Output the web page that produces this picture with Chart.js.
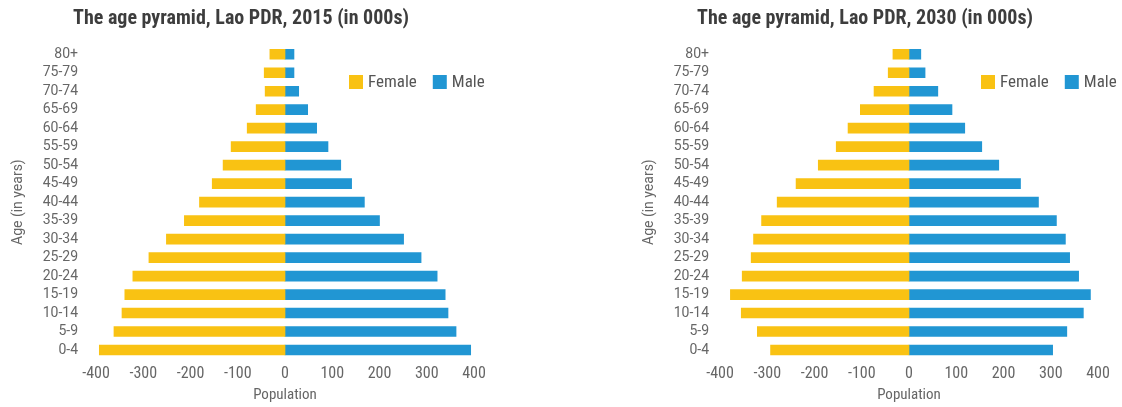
<!DOCTYPE html>
<html><head><meta charset="utf-8">
<script src="https://cdn.jsdelivr.net/npm/chart.js@4.4.1/dist/chart.umd.min.js"></script>
<style>
html,body{margin:0;padding:0;background:#fff;}
body{width:1122px;height:407px;position:relative;overflow:hidden;}
.box{position:absolute;top:0;width:498px;height:407px;}
</style></head><body>
<div class="box" style="left:0"><canvas id="c1" width="498" height="407"></canvas></div>
<div class="box" style="left:624px"><canvas id="c2" width="498" height="407"></canvas></div>
<script>
const ageGroups = ['0-4','5-9','10-14','15-19','20-24','25-29','30-34','35-39','40-44','45-49','50-54','55-59','60-64','65-69','70-74','75-79','80+'];
const female2015 = [393, 362, 345, 339, 322, 288, 251, 213, 181, 154, 131, 114, 80, 61, 42, 44, 32];
const male2015   = [393, 362, 345, 339, 322, 288, 251, 200, 168, 141, 118, 91, 67, 48, 29, 19, 19];
const female2030 = [293, 321, 355, 378, 353, 334, 329, 312, 279, 239, 192, 154, 129, 103, 74, 44, 34];
const male2030   = [304, 334, 369, 384, 359, 340, 331, 312, 274, 236, 190, 154, 118, 91, 61, 34, 25];
const xTicks = [-400, -300, -200, -100, 0, 100, 200, 300, 400];
const seriesNames = ['Female', 'Male'];
const chartTitles = ['The age pyramid, Lao PDR, 2015 (in 000s)', 'The age pyramid, Lao PDR, 2030 (in 000s)'];
const yAxisTitle = 'Age (in years)';
const xAxisTitle = 'Population';

const COND = "'Roboto Condensed', Roboto, sans-serif";
const YELLOW = '#F9C213', BLUE = '#2196D3';

const overlayPlugin = {
  id: 'overlay',
  afterDraw(chart, args, o) {
    const ctx = chart.ctx;
    ctx.save();
    ctx.fillStyle = '#3d3d3d';
    ctx.font = 'bold 20px ' + COND;
    ctx.textAlign = 'center'; ctx.textBaseline = 'middle';
    ctx.fillText(o.title, o.titleX, o.titleY);
    ctx.font = '17px ' + COND;
    ctx.textAlign = 'left';
    let x = o.legendX;
    chart.data.datasets.forEach(ds => {
      ctx.fillStyle = ds.backgroundColor;
      ctx.fillRect(x, o.legendY - 7, 14, 14);
      x += 19;
      ctx.fillStyle = '#555';
      ctx.fillText(ds.label, x, o.legendY + 1);
      x += ctx.measureText(ds.label).width + 16;
    });
    ctx.restore();
  }
};

function makeChart(id, female, male, title, opt) {
  return new Chart(document.getElementById(id), {
    type: 'bar',
    data: {
      labels: ageGroups,
      datasets: [
        { label: seriesNames[0], data: female.map(v => -v), backgroundColor: YELLOW, barThickness: 10 },
        { label: seriesNames[1], data: male, backgroundColor: BLUE, barThickness: 10 }
      ]
    },
    options: {
      indexAxis: 'y',
      responsive: false,
      animation: false,
      devicePixelRatio: 1,
      layout: { padding: { top: 45, right: 24, left: 0, bottom: 0 } },
      plugins: {
        legend: { display: false },
        title: { display: false },
        tooltip: { enabled: false },
        overlay: { title: title, titleX: 241, titleY: 19, legendX: opt.legendX, legendY: 82 }
      },
      scales: {
        x: {
          stacked: true,
          min: xTicks[0], max: xTicks[xTicks.length - 1],
          afterBuildTicks: s => { s.ticks = xTicks.map(v => ({ value: v })); },
          grid: { display: false, drawTicks: false },
          border: { display: false },
          ticks: { color: '#666', font: { family: COND, size: 16 }, padding: 5, maxRotation: 0 },
          title: { display: true, text: xAxisTitle, color: '#666', font: { family: COND, size: 15 }, padding: { top: 4, bottom: 3 } },
          afterFit: s => { s.height = 47.75; }
        },
        y: {
          stacked: true,
          reverse: true,
          grid: { display: false, drawTicks: false },
          border: { display: false },
          ticks: { color: '#666', font: { family: 'Roboto', size: 14 }, padding: opt.tickPad, autoSkip: false },
          title: { display: true, text: yAxisTitle, color: '#666', font: { family: 'Roboto', size: 14 }, padding: { top: opt.yTitlePad, bottom: 0 } },
          afterFit: s => { s.width = 96; }
        }
      }
    },
    plugins: [overlayPlugin]
  });
}

makeChart('c1', female2015, male2015, chartTitles[0], { legendX: 349, tickPad: 18, yTitlePad: 10.5 });
makeChart('c2', female2030, male2030, chartTitles[1], { legendX: 357, tickPad: 11, yTitlePad: 17.5 });
</script>
</body></html>
